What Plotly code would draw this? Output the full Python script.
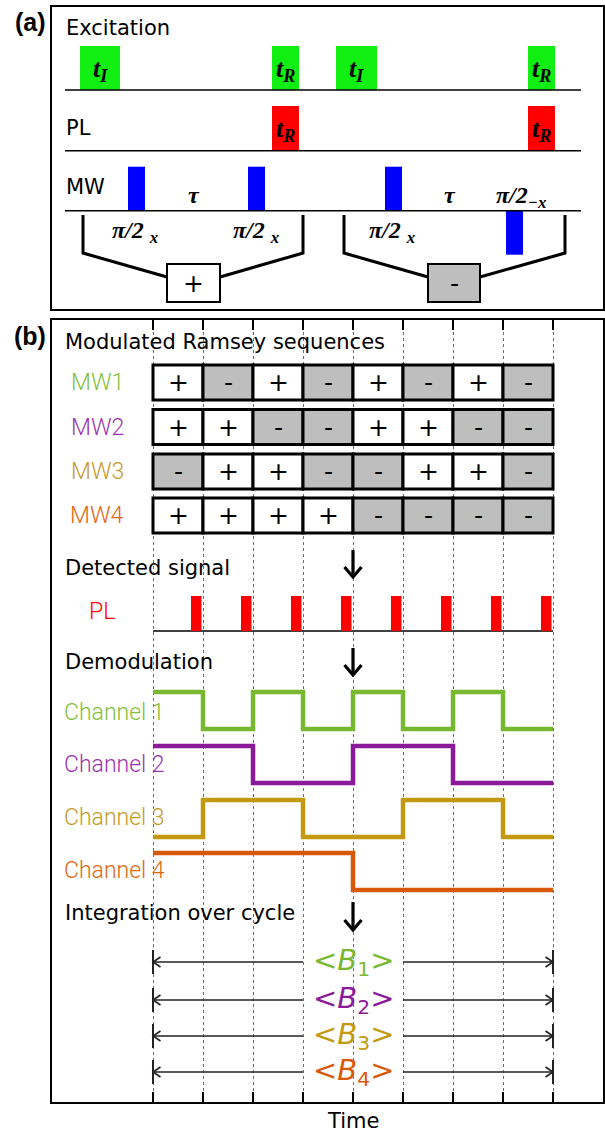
import plotly.graph_objects as go

# ---------------- data ----------------
SEQ_NAMES = ["MW1", "MW2", "MW3", "MW4"]
SEQ_MW1 = ["+", "-", "+", "-", "+", "-", "+", "-"]
SEQ_MW2 = ["+", "+", "-", "-", "+", "+", "-", "-"]
SEQ_MW3 = ["-", "+", "+", "-", "-", "+", "+", "-"]
SEQ_MW4 = ["+", "+", "+", "+", "-", "-", "-", "-"]
SEQUENCES = [SEQ_MW1, SEQ_MW2, SEQ_MW3, SEQ_MW4]
CHANNEL_NAMES = ["Channel 1", "Channel 2", "Channel 3", "Channel 4"]
B_SUBSCRIPTS = ["1", "2", "3", "4"]
TIME_TICKS = [0, 1, 2, 3, 4, 5, 6, 7, 8]
PL_PULSE_SLOT_END = [1, 2, 3, 4, 5, 6, 7, 8]
SECTION_TITLES = ["Modulated Ramsey sequences", "Detected signal",
                  "Demodulation", "Integration over cycle"]
AXIS_TITLE = "Time"
PANEL_LETTERS = ["(a)", "(b)"]

# panel (a) pulse timing (schematic time units)
EXC_START = [80, 272, 336, 528]
EXC_END = [120, 299, 377, 555]
EXC_SUB = ["I", "R", "I", "R"]
PLA_START = [272, 528]
PLA_END = [299, 555]
PLA_SUB = ["R", "R"]
MWA_START = [128, 248, 385, 506]
MWA_END = [145, 265, 402, 523]
MWA_SIDE = ["up", "up", "up", "down"]
MWA_PHASE = ["x", "x", "x", "\u2212x"]
GROUP_SIGN = ["+", "-"]
ROW_NAMES_A = ["Excitation", "PL", "MW"]

# ---------------- styles / layout ----------------
LINE_COLORS = ["#78b730", "#8b1a9b", "#c2990f", "#d9590a"]
TEXT_COLORS = ["#84c03a", "#9a34ae", "#c49b2a", "#e06812"]
GRAY = "#bebebe"
GRID = "#5a5aff"
SANS = "DejaVu Sans"
THIN = "Roboto"
SERIF = "Liberation Serif"

W, H = 605, 1134
XL, XR = 52, 603
A_TOP, A_BOT = 7, 309
B_TOP, B_BOT = 320, 1102
B_X0PX, B_UNIT = 153, 50

# panel (b) vertical positions (axis units, increasing downwards)
ROW_TOP = [365, 409.5, 454, 498]
ROW_H = 35
PL_TOP, PL_BASE = 596, 631
PL_W, PL_GAP = 0.21, 0.03
CH_HIGH = [692, 746, 800, 853]
CH_AMP = 37
INT_Y = [962, 1000, 1036, 1072]
INT_BAR = 12
TITLE_Y = [342, 568, 662, 913]
ARROW_Y = [(550, 577), (648, 675), (902, 930)]
TITLE_X = -1.8
SEQ_LABEL_X = -1.12
PL_LABEL_X = -1.02
CH_LABEL_X = -1.83
CH_LABEL_Y = [712, 764, 817, 870]
HEAD_DX, HEAD_DY = 0.15, 5          # small arrowheads (x units, y units)
BIG_DX, BIG_DY = 0.17, 10           # down arrows

# paper-pixel positions for free texts
LETTER_PX = [(30, 22), (30, 336)]
AXIS_TITLE_PX = (353, 1121)

# panel (a) vertical positions
A_BASE = [90, 150.7, 210.7]
A_BASE_X = (65, 581)
A_LABEL_Y = [28, 128, 187]
A_LABEL_X = 64
EXC_TOP = 46
PLA_TOP = 106
MW_H = 44
TAU_POS = [(194, 195), (450, 195)]
PHASE_POS = [(135, 232), (256, 232), (392, 232), (521, 197)]
BRACKET_X = [(83, 303), (344, 565)]
BRACKET_Y = (215, 253, 277)
SIGN_BOX_X = [(167, 220), (428, 480)]
SIGN_BOX_Y = (264, 302)

fig = go.Figure()
shapes = []
ann = []


def seg_path(pts):
    return "M " + " L ".join("%g,%g" % p for p in pts)


# ---------- panel (b) ----------
for i, seq in enumerate(SEQUENCES):
    top = ROW_TOP[i]
    for k, s in enumerate(seq):
        shapes.append(dict(type="rect", xref="x", yref="y", x0=k, x1=k + 1,
                           y0=top, y1=top + ROW_H,
                           fillcolor="white" if s == "+" else GRAY,
                           line=dict(color="black", width=3), layer="above"))
        ann.append(dict(xref="x", yref="y", x=k + 0.5, y=top + ROW_H / 2,
                        text=s, showarrow=False,
                        font=dict(family=SANS, size=25, color="black")))
    ann.append(dict(xref="x", yref="y", x=SEQ_LABEL_X, y=top + ROW_H / 2,
                    text=SEQ_NAMES[i], showarrow=False,
                    font=dict(family=THIN, size=23, color=TEXT_COLORS[i], weight=300)))

# detected PL pulses
for e in PL_PULSE_SLOT_END:
    shapes.append(dict(type="rect", xref="x", yref="y",
                       x0=e - PL_GAP - PL_W, x1=e - PL_GAP, y0=PL_TOP, y1=PL_BASE,
                       fillcolor="#ff0000", line=dict(width=0), layer="above"))
fig.add_trace(go.Scatter(x=[TIME_TICKS[0], TIME_TICKS[-1]], y=[PL_BASE, PL_BASE],
                         mode="lines", line=dict(color="black", width=1.5),
                         xaxis="x", yaxis="y", hoverinfo="skip", showlegend=False))
ann.append(dict(xref="x", yref="y", x=PL_LABEL_X, y=(PL_TOP + PL_BASE) / 2 - 2,
                text="PL", showarrow=False,
                font=dict(family=THIN, size=23, color="#ff0000", weight=300)))

# demodulation channels
for i, seq in enumerate(SEQUENCES):
    levels = [CH_HIGH[i] if s == "+" else CH_HIGH[i] + CH_AMP for s in seq]
    levels = levels + [levels[-1]]
    fig.add_trace(go.Scatter(x=TIME_TICKS, y=levels, mode="lines",
                             line=dict(color=LINE_COLORS[i], width=4.5, shape="hv"),
                             xaxis="x", yaxis="y", hoverinfo="skip", showlegend=False))
    ann.append(dict(xref="x", yref="y", x=CH_LABEL_X, y=CH_LABEL_Y[i],
                    xanchor="left", text=CHANNEL_NAMES[i], showarrow=False,
                    font=dict(family=THIN, size=23, color=TEXT_COLORS[i], weight=300)))

# integration arrows
mid = TIME_TICKS[len(TIME_TICKS) // 2]
x_first, x_last = TIME_TICKS[0], TIME_TICKS[-1]
for i, sub in enumerate(B_SUBSCRIPTS):
    y = INT_Y[i]
    for head, tail, d in [(x_first, mid - 1, 1), (x_last, mid + 1, -1)]:
        shapes.append(dict(type="line", xref="x", yref="y", x0=head, x1=tail,
                           y0=y, y1=y, line=dict(color="#222222", width=1.6)))
        shapes.append(dict(type="path", xref="x", yref="y",
                           path=seg_path([(head + d * HEAD_DX, y - HEAD_DY), (head, y),
                                          (head + d * HEAD_DX, y + HEAD_DY)]),
                           line=dict(color="#222222", width=1.6)))
        shapes.append(dict(type="line", xref="x", yref="y", x0=head, x1=head,
                           y0=y - INT_BAR, y1=y + INT_BAR,
                           line=dict(color="#222222", width=2)))
    ann.append(dict(xref="x", yref="y", x=mid, y=y, showarrow=False,
                    text="&lt;<i>B</i><sub>%s</sub>&gt;" % sub,
                    font=dict(family=SANS, size=29, color=LINE_COLORS[i])))

# section titles and down arrows
for t, y in zip(SECTION_TITLES, TITLE_Y):
    ann.append(dict(xref="x", yref="y", x=TITLE_X, y=y, xanchor="left",
                    text=t, showarrow=False,
                    font=dict(family=SANS, size=21, color="black")))
for y0, y1 in ARROW_Y:
    shapes.append(dict(type="line", xref="x", yref="y", x0=mid, x1=mid,
                       y0=y0, y1=y1 - 1, line=dict(color="black", width=3.2)))
    shapes.append(dict(type="path", xref="x", yref="y",
                       path=seg_path([(mid - BIG_DX, y1 - BIG_DY), (mid, y1),
                                      (mid + BIG_DX, y1 - BIG_DY)]),
                       line=dict(color="black", width=3.2)))

# ---------- panel (a) ----------
for yb in A_BASE:
    fig.add_trace(go.Scatter(x=list(A_BASE_X), y=[yb, yb], mode="lines",
                             line=dict(color="black", width=1.5),
                             xaxis="x2", yaxis="y2", hoverinfo="skip", showlegend=False))
for name, y in zip(ROW_NAMES_A, A_LABEL_Y):
    ann.append(dict(xref="x2", yref="y2", x=A_LABEL_X, y=y, xanchor="left",
                    text=name, showarrow=False,
                    font=dict(family=SANS, size=21, color="black")))

tfont = dict(family=SERIF, size=26, color="black", weight="bold", style="italic")
for s, e, sub in zip(EXC_START, EXC_END, EXC_SUB):
    shapes.append(dict(type="rect", xref="x2", yref="y2", x0=s, x1=e,
                       y0=EXC_TOP, y1=A_BASE[0], fillcolor="#11ee11",
                       line=dict(width=0), layer="below"))
    ann.append(dict(xref="x2", yref="y2", x=(s + e) / 2, y=(EXC_TOP + A_BASE[0]) / 2 + 2,
                    text="t<sub>%s</sub>" % sub, showarrow=False, font=tfont))
for s, e, sub in zip(PLA_START, PLA_END, PLA_SUB):
    shapes.append(dict(type="rect", xref="x2", yref="y2", x0=s, x1=e,
                       y0=PLA_TOP, y1=A_BASE[1], fillcolor="#ff0000",
                       line=dict(width=0), layer="below"))
    ann.append(dict(xref="x2", yref="y2", x=(s + e) / 2, y=(PLA_TOP + A_BASE[1]) / 2 + 2,
                    text="t<sub>%s</sub>" % sub, showarrow=False, font=tfont))
for s, e, side in zip(MWA_START, MWA_END, MWA_SIDE):
    y0 = A_BASE[2] - MW_H if side == "up" else A_BASE[2]
    shapes.append(dict(type="rect", xref="x2", yref="y2", x0=s, x1=e,
                       y0=y0, y1=y0 + MW_H, fillcolor="#0000ff",
                       line=dict(width=0), layer="below"))

pfont = dict(family=SERIF, size=24, color="black", weight="bold", style="italic")
for (x, y) in TAU_POS:
    ann.append(dict(xref="x2", yref="y2", x=x, y=y, text="\u03c4",
                    showarrow=False, font=pfont))
for (x, y), ph in zip(PHASE_POS, MWA_PHASE):
    sep = " " if ph == "x" else ""
    ann.append(dict(xref="x2", yref="y2", x=x, y=y,
                    text="\u03c0/2%s<sub>%s</sub>" % (sep, ph),
                    showarrow=False, font=pfont))

for (bl, br), (sl, sr), sign in zip(BRACKET_X, SIGN_BOX_X, GROUP_SIGN):
    ytop, ymid, yend = BRACKET_Y
    for xv, xs in [(bl, sl), (br, sr)]:
        fig.add_trace(go.Scatter(x=[xv, xv, xs], y=[ytop, ymid, yend], mode="lines",
                                 line=dict(color="black", width=3),
                                 xaxis="x2", yaxis="y2", hoverinfo="skip",
                                 showlegend=False))
    shapes.append(dict(type="rect", xref="x2", yref="y2", x0=sl, x1=sr,
                       y0=SIGN_BOX_Y[0], y1=SIGN_BOX_Y[1],
                       fillcolor="white" if sign == "+" else GRAY,
                       line=dict(color="black", width=2), layer="above"))
    ann.append(dict(xref="x2", yref="y2", x=(sl + sr) / 2, y=sum(SIGN_BOX_Y) / 2,
                    text=sign, showarrow=False,
                    font=dict(family=SANS, size=25, color="black")))

# panel letters and axis title (paper coordinates, explicit anchors)
for lab, (px, py) in zip(PANEL_LETTERS, LETTER_PX):
    ann.append(dict(xref="paper", yref="paper", x=px / W, y=1 - py / H,
                    xanchor="center", yanchor="middle",
                    text="<b>%s</b>" % lab, showarrow=False,
                    font=dict(family="Liberation Sans", size=25, color="black")))
ann.append(dict(xref="paper", yref="paper", x=AXIS_TITLE_PX[0] / W,
                y=1 - AXIS_TITLE_PX[1] / H, xanchor="center", yanchor="middle",
                text=AXIS_TITLE, showarrow=False,
                font=dict(family=SANS, size=21, color="black")))

fig.update_layout(
    width=W, height=H, margin=dict(l=0, r=0, t=0, b=0),
    paper_bgcolor="white", plot_bgcolor="white",
    font=dict(family=SANS, color="black"),
    shapes=shapes, annotations=ann, showlegend=False,
    xaxis=dict(domain=[XL / W, XR / W],
               range=[(XL - B_X0PX) / B_UNIT, (XR - B_X0PX) / B_UNIT],
               tickvals=TIME_TICKS, showticklabels=False, ticks="inside",
               ticklen=10, tickwidth=1.5, tickcolor="black",
               showline=True, linecolor="black", linewidth=1.5, mirror="ticks",
               showgrid=True, gridcolor=GRID, griddash="3px,3px", gridwidth=1,
               zeroline=False, fixedrange=True),
    yaxis=dict(domain=[1 - B_BOT / H, 1 - B_TOP / H], range=[B_BOT, B_TOP],
               showticklabels=False, ticks="", showgrid=False, zeroline=False,
               showline=True, linecolor="black", linewidth=1.5, mirror=True,
               fixedrange=True),
    xaxis2=dict(domain=[XL / W, XR / W], range=[XL, XR], anchor="y2",
                showticklabels=False, ticks="", showgrid=False, zeroline=False,
                showline=True, linecolor="black", linewidth=1.5, mirror=True,
                fixedrange=True),
    yaxis2=dict(domain=[1 - A_BOT / H, 1 - A_TOP / H], range=[A_BOT, A_TOP],
                anchor="x2", showticklabels=False, ticks="", showgrid=False,
                zeroline=False, showline=True, linecolor="black", linewidth=1.5,
                mirror=True, fixedrange=True),
)

fig.write_html("out.html", config={"displayModeBar": False},
               post_script="document.body.style.margin='0';")
